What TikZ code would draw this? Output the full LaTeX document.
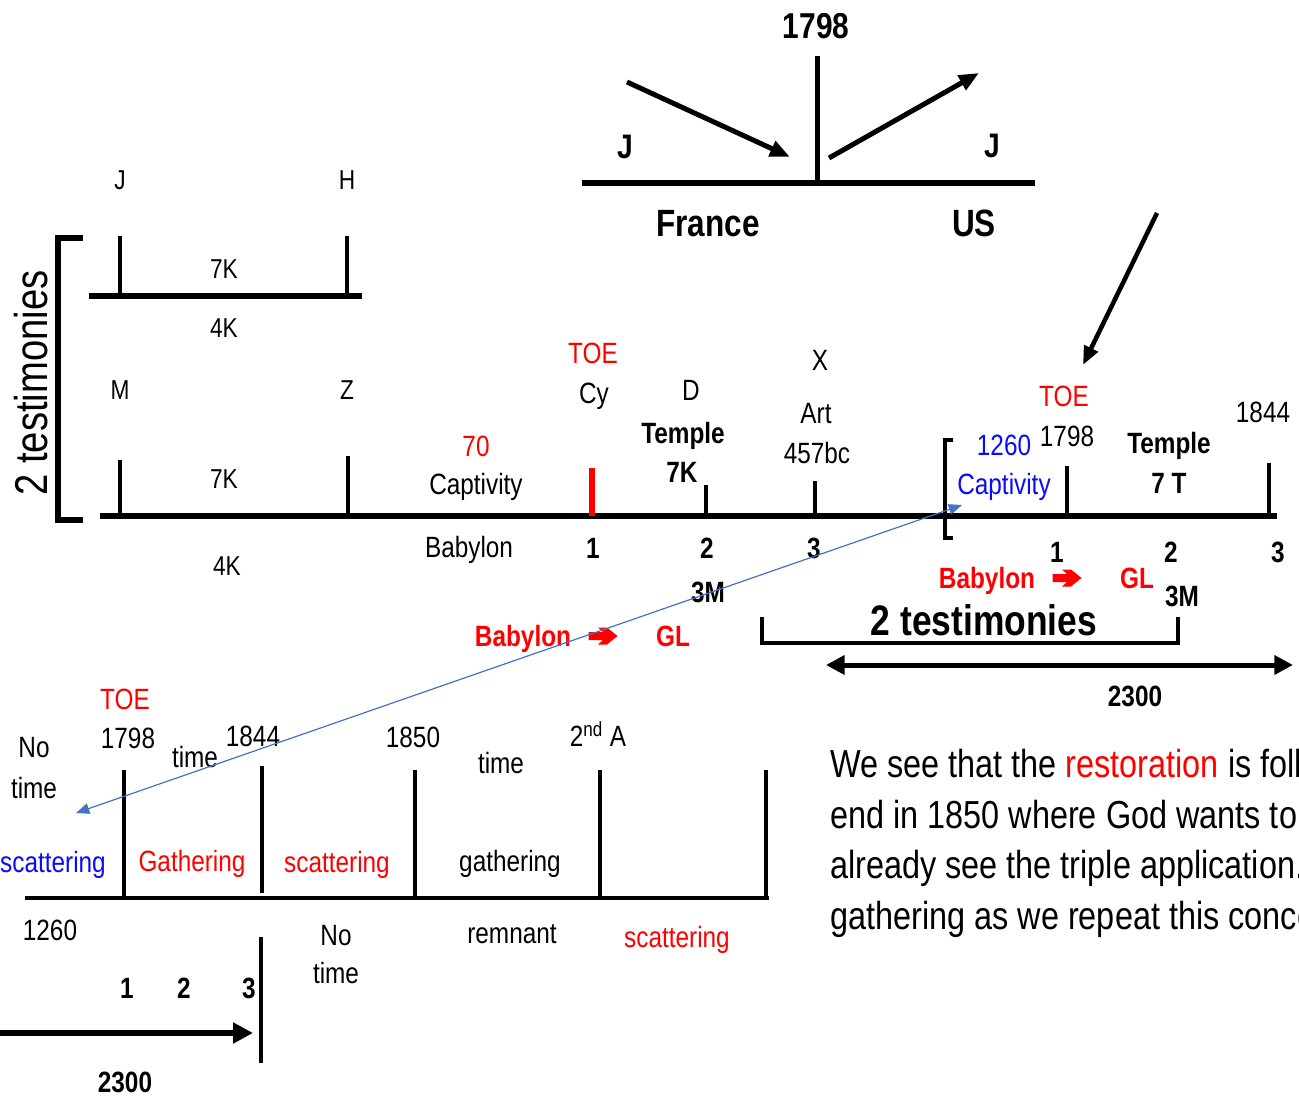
\documentclass[tikz,border=0pt]{standalone}
\usepackage{fontspec}
\setmainfont{Liberation Sans}[FakeStretch=0.83]
\usetikzlibrary{arrows.meta}
\definecolor{rd}{RGB}{255,0,0}
\definecolor{bu}{RGB}{10,10,255}
\definecolor{lb}{RGB}{68,114,196}
\tikzset{
 lab/.style={inner sep=0pt, outer sep=0pt, text depth=0pt},
 sm/.style={lab, font=\fontsize{20.5pt}{24pt}\selectfont, text height=14.7pt},
 md/.style={lab, font=\fontsize{22pt}{26pt}\selectfont, text height=15.75pt},
 bd/.style={lab, font=\bfseries\fontsize{22pt}{26pt}\selectfont, text height=15.75pt},
 hd/.style={lab, font=\bfseries\fontsize{27pt}{32pt}\selectfont, text height=19.3pt},
 jj/.style={lab, font=\bfseries\fontsize{25.5pt}{30pt}\selectfont, text height=18.3pt},
 fr/.style={lab, font=\bfseries\fontsize{28.5pt}{33pt}\selectfont, text height=20.4pt},
 tb/.style={lab, font=\bfseries\fontsize{32pt}{38pt}\selectfont, text height=22.9pt},
 tl/.style={lab, font=\fontsize{34.5pt}{40pt}\selectfont, text height=24.7pt, rotate=90},
 pr/.style={inner sep=0pt, anchor=base west, font=\fontsize{29.3pt}{37.7pt}\selectfont},
 ln/.style={line width=4.1pt},
 tk/.style={line width=3.4pt},
 bt/.style={line width=3pt},
 bigarr/.style={line width=3.75pt, -{Triangle[length=15pt,width=12pt]}},
 redarrow/.pic={\fill[rd] (-14.5,-4) -- (0,-4) -- (-5,-8.5) -- (4,-8.5) -- (14.5,0) -- (4,8.5) -- (-5,8.5) -- (0,4) -- (-14.5,4) -- cycle;},
}
\begin{document}
\begin{tikzpicture}[x=0.75pt,y=-0.75pt]
\useasboundingbox (0,0) rectangle (1299,1105);
\clip (0,0) rectangle (1299,1105);
\fill[white] (0,0) rectangle (1299,1105);

% ---------- top diagram ----------
\node[hd] (t1798) at (816,26) {1798};
\draw[line width=3.75pt] (817,56) -- (817,181);
\draw[line width=4.5pt] (582,183) -- (1035,183);
\coordinate (a1s) at (627,82); \coordinate (a1e) at (790,157);
\coordinate (a2s) at (829,158); \coordinate (a2e) at (979,73);
\draw[bigarr] (a1s) -- (a1e);
\draw[bigarr] (a2s) -- (a2e);
\node[jj] (tJ1) at (625,146) {J};
\node[jj] (tJ2) at (992,145) {J};
\node[fr] (tFr) at (708,223) {France};
\node[fr] (tUS) at (974,223) {US};
\coordinate (a3s) at (1157,213); \coordinate (a3e) at (1083,365);
\draw[line width=3.4pt, -{Triangle[length=14pt,width=11pt]}] (a3s) -- (a3e);

% ---------- left upper ----------
\node[sm] (lJ) at (120,180) {J};
\node[sm] (lH) at (347,180) {H};
\draw[ln] (89,296) -- (362,296);
\draw[tk] (120,236) -- (120,296);
\draw[tk] (347,236) -- (347,296);
\node[sm] (l7K) at (224,269) {7K};
\node[sm] (l4K) at (224,328) {4K};
\node[sm] (lM) at (120,390) {M};
\node[sm] (lZ) at (347,390) {Z};
\node[sm] (l7Kb) at (224,479) {7K};
\node[sm] (l4Kb) at (227,566) {4K};
\draw[line width=4.5pt] (83,238) -- (58,238) -- (58,520) -- (83,520);
\node[tl] (ltest) at (31,383) {2 testimonies};

% ---------- main timeline ----------
\draw[ln] (100,516) -- (1277,516);
\draw[tk] (120,460) -- (120,516);
\draw[tk] (348,456) -- (348,516);
\draw[rd, line width=5.2pt] (592,468) -- (592,516);
\draw[tk] (706,485) -- (706,516);
\draw[tk] (815,481) -- (815,516);
\draw[tk] (1067,466) -- (1067,516);
\draw[tk] (1269,463) -- (1269,516);
\draw[line width=3pt] (953,440) -- (945,440) -- (945,538) -- (953,538);

\node[md, text=rd] (m70) at (476,446) {70};
\node[md] (mCap) at (476,484) {Captivity};
\node[md] (mBab) at (469,547) {Babylon};
\node[md, text=rd] (mTOE) at (593,353) {TOE};
\node[md] (mCy) at (594,393) {Cy};
\node[md] (mD) at (691,390) {D};
\node[bd] (mTemple) at (683,433) {Temple};
\node[bd] (m7K) at (682,472) {7K};
\node[md] (mX) at (820,360) {X};
\node[md] (mArt) at (816,413) {Art};
\node[md] (m457) at (817,453) {457bc};
\node[bd] (m1) at (593,548) {1};
\node[bd] (m2) at (707,548) {2};
\node[bd] (m3) at (814,548) {3};
\node[bd] (m3M) at (708,592) {3M};
\node[bd, text=rd] (mBabR) at (523,636) {Babylon};
\pic at (603,636) {redarrow};
\node[bd, text=rd] (mGL) at (673,636) {GL};

% ---------- right part ----------
\node[md, text=rd] (rTOE) at (1064,396) {TOE};
\node[md] (r1798) at (1067,436) {1798};
\node[md, text=bu] (r1260) at (1004,445) {1260};
\node[md, text=bu] (rCap) at (1004,484) {Captivity};
\node[bd] (rTemple) at (1169,443) {Temple};
\node[bd] (r7T) at (1169,483) {7 T};
\node[md] (r1844) at (1263,412) {1844};
\node[bd] (r1) at (1057,552) {1};
\node[bd] (r2) at (1171,552) {2};
\node[bd] (r3) at (1278,552) {3};
\node[bd, text=rd] (rBab) at (987,578) {Babylon};
\pic at (1067,578) {redarrow};
\node[bd, text=rd] (rGL) at (1137,578) {GL};
\node[bd] (r3M) at (1182,596) {3M};
\node[tb] (rtest) at (984,620) {2 testimonies};
\draw[line width=3.4pt] (762,617) -- (762,643) -- (1178,643) -- (1178,617);
\coordinate (d1) at (826,665); \coordinate (d2) at (1293,665);
\draw[line width=3.75pt, {Triangle[length=14pt,width=14pt]}-{Triangle[length=14pt,width=14pt]}] (d1) -- (d2);
\node[bd] (r2300) at (1135,696) {2300};

% ---------- bottom diagram ----------
\draw[bt] (25,898) -- (769,898);
\draw[bt] (124,770) -- (124,898);
\draw[bt] (262,766) -- (262,893);
\draw[bt] (415,770) -- (415,898);
\draw[bt] (600,770) -- (600,898);
\draw[bt] (766,770) -- (766,898);
\draw[bt] (261,937) -- (261,1063);

\node[md, text=rd] (bTOE) at (125,699) {TOE};
\node[md] (b1798) at (128,738) {1798};
\node[md] (bNo) at (34,747) {No};
\node[md] (bTime) at (34,788) {time};
\node[md] (bTime2) at (195,757) {time};
\node[md] (b1844) at (253,736) {1844};
\node[md] (b1850) at (413,737) {1850};
\node[md] (bTime3) at (501,763) {time};
\node[md] (b2A) at (598,736) {2\textsuperscript{nd} A};
\node[md, text=bu] (bSc1) at (53,862) {scattering};
\node[md, text=rd] (bGa) at (192,861) {Gathering};
\node[md, text=rd] (bSc2) at (337,862) {scattering};
\node[md] (bga2) at (510,861) {gathering};
\node[md] (b1260) at (50,930) {1260};
\node[md] (bNo2) at (336,935) {No};
\node[md] (bTime4) at (336,973) {time};
\node[md] (bRem) at (512,933) {remnant};
\node[md, text=rd] (bSc3) at (677,937) {scattering};
\node[bd] (b1) at (127,988) {1};
\node[bd] (b2) at (184,988) {2};
\node[bd] (b3) at (249,988) {3};
\coordinate (ba1) at (-5,1033); \coordinate (ba2) at (253,1033);
\draw[line width=4.5pt, -{Triangle[length=15pt,width=15pt]}] (ba1) -- (ba2);
\node[bd] (b2300) at (125,1082) {2300};

% ---------- paragraph ----------
\node[pr] (p1) at (830,777) {We see that the \textcolor{rd}{restoration} is followed};
\node[pr] (p2) at (830,828) {end in 1850 where God wants to};
\node[pr] (p3) at (830,878) {already see the triple application.};
\node[pr] (p4) at (830,929) {gathering as we repeat this concept};

% ---------- blue connector ----------
\coordinate (bl1) at (962,505); \coordinate (bl2) at (76,813);
\draw[lb, line width=0.9pt, {Triangle[length=10pt,width=8pt]}-{Triangle[length=10pt,width=8pt]}] (bl2) -- (bl1);
\end{tikzpicture}
\end{document}
